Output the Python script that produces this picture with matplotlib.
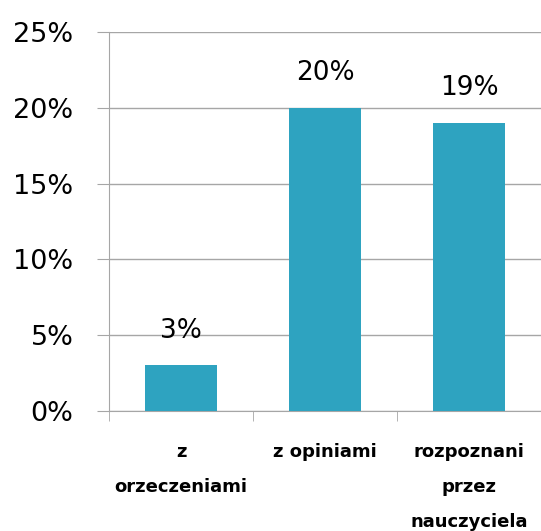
import matplotlib.pyplot as plt
from matplotlib.ticker import FixedLocator, NullFormatter

categories = ['z\norzeczeniami', 'z opiniami', 'rozpoznani\nprzez\nnauczyciela']
values = [3, 20, 19]
yticks = [0, 5, 10, 15, 20, 25]

bar_color = '#2ea3c0'
grid_color = '#a6a6a6'

fig = plt.figure(figsize=(5.41, 5.31), dpi=100)
ax = fig.add_axes([0.2015, 0.226, 0.7985, 0.714])

x = list(range(len(categories)))
bars = ax.bar(x, values, width=0.5, color=bar_color, zorder=3)
for xi, v in zip(x, values):
    ax.text(xi, v + 1.45, f'{v}%', ha='center', va='bottom', fontsize=19)

ax.set_xlim(-0.5, len(categories) - 0.5)
ax.set_ylim(0, 25)
ax.set_yticks(yticks)
ax.set_yticklabels([f'{t}%' for t in yticks], fontsize=19.5)
ax.yaxis.grid(True, color=grid_color, linewidth=1, zorder=0)
ax.tick_params(axis='y', length=8.5, color=grid_color, pad=17)

ax.set_xticks(x)
ax.set_xticklabels(categories, fontsize=13, fontweight='bold', linespacing=2.2)
ax.tick_params(axis='x', which='major', length=0, pad=23)
ax.xaxis.set_minor_locator(FixedLocator([-0.5, 0.5, 1.5, 2.5]))
ax.xaxis.set_minor_formatter(NullFormatter())
ax.tick_params(axis='x', which='minor', length=7, color=grid_color)

for s in ['top', 'right']:
    ax.spines[s].set_visible(False)
for s in ['left', 'bottom']:
    ax.spines[s].set_color(grid_color)

fig.savefig('out.png', dpi=100)
